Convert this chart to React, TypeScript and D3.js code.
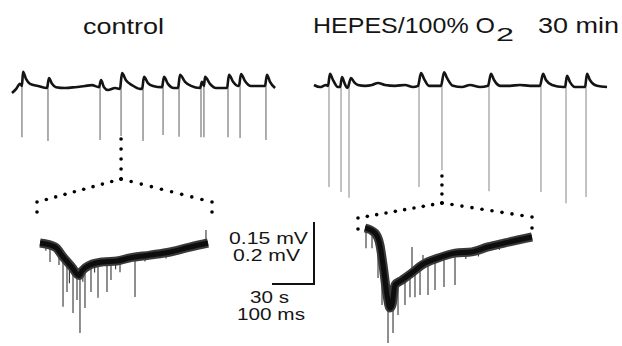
import React from 'react';
import * as d3 from 'd3';

// ---- Data (top traces: time in s, voltage in µV; bottom traces: time in ms, voltage in µV)
const controlTrace: [number, number][] = [
  [0, -12], [3, -2], [5.7, 10], [7.1, 5], [7.9, 39], [10, 22], [12.9, 10], [18.6, 5], [25, 0],
  [26.4, 24], [28.6, 10], [31.4, 2], [37.9, 0], [45, 2], [52.1, 5], [57.1, 7], [62.1, 2],
  [63.6, 19], [65.7, 2], [68.6, -5], [73.6, 0], [77.1, -2], [78.6, 36], [81.4, 19], [85.7, 7],
  [91.4, -2], [92.9, -2], [94.3, 27], [97.1, 12], [100.7, 5], [107.1, 2], [108.6, 27], [111.4, 10],
  [115.7, 0], [118.6, 0], [120, 32], [123.6, 15], [127.9, 5], [134.3, 0], [135.7, 15], [137.1, 5],
  [137.9, 27], [141.4, 10], [145.7, 0], [153.6, 0], [155, 32], [157.9, 15], [161.4, 5], [162.1, 5],
  [163.6, 34], [166.4, 17], [170.7, 5], [175.7, 5], [180.7, 5], [182.1, 32], [184.3, 15], [187.9, 0],
];
const controlSpikeTimes = [7.1, 25.7, 62.9, 77.9, 93.6, 107.9, 119.3, 135, 137.1, 154.3, 162.9, 181.4];
const controlSpikeDepths = [-119, -128, -126, -116, -128, -114, -118, -119, -119, -119, -121, -126];

const hepesTrace: [number, number][] = [
  [0, 0], [4.3, -5], [8.6, 0], [10, -2], [11.4, 27], [13.6, 12], [17.1, -5], [18.6, -5], [20, 19],
  [22.1, 2], [23.6, -7], [24.3, -5], [26.4, 17], [28.6, 7], [31.4, 0], [36.4, -2], [41.4, 0],
  [45.7, 5], [50.7, 0], [57.9, -2], [65, 0], [70.7, -5], [74.3, -2], [76.4, 29], [78.6, 15],
  [82.1, -2], [86.4, -2], [90.7, -2], [92.9, 31], [95, 17], [99.3, -2], [105.7, -5], [111.4, 0],
  [118.6, -5], [124.3, -2], [126.4, 27], [128.6, 12], [132.9, -2], [140, -2], [147.1, 0],
  [154.3, -2], [161.4, -2], [163.6, 27], [165.7, 12], [170, 0], [177.9, -5], [179.3, -5],
  [180.7, 22], [182.9, 7], [186.4, -5], [193.6, -5], [195, 27], [197.1, 12], [202.1, -2], [209.3, -5],
];
const hepesSpikeTimes = [10.7, 19.3, 25, 75, 91.4, 125, 162.1, 180, 194.3];
const hepesSpikeDepths = [-247, -259, -273, -247, -206, -257, -259, -286, -271];

const controlEvent: [number, number][] = [
  [0, 0], [36, -13], [55, -45], [76, -78], [93, -105], [100, -90], [119, -71], [150, -61],
  [183, -58], [214, -48], [262, -39], [310, -29], [357, -13], [400, 0],
];
const controlEventSpikeTimes = [23.8, 45.2, 54.8, 64.3, 78.6, 88.1, 95.2, 107.1, 121.4, 138.1, 159.5, 169, 190.5, 226.2, 395.2, 14, 70, 102, 130, 180, 250, 300, 340];
const controlEventSpikeValues = [-61, -71, -206, -158, -226, -184, -290, -210, -158, -177, -158, -119, -94, -174, 42, -25, -130, -125, -95, -85, -60, -50, -32];

const hepesEvent: [number, number][] = [
  [0, 0], [23.8, -16], [35.7, -55], [42.9, -119], [52.4, -216], [59.5, -258], [64.3, -248],
  [71.4, -184], [88.1, -168], [114.3, -142], [135.7, -119], [173.8, -97], [214.3, -81],
  [254.8, -77], [292.9, -61], [333.3, -48], [397.6, -29],
];
const hepesEventSpikeTimes = [2.4, 16.7, 31, 40.5, 54.8, 66.7, 78.6, 95.2, 107.1, 119, 131, 150, 166.7, 188.1, 214.3, 111.9, 138.1, 240, 270, 320, 360];
const hepesEventSpikeValues = [-65, -65, -161, -248, -371, -339, -281, -248, -223, -223, -216, -216, -200, -190, -184, -61, -87, -100, -92, -70, -50];

const titleControl = 'control';
const titleHepes = 'HEPES/100% O';
const titleHepesSub = '2';
const titleTime = '30 min';
const scaleLabelsV = ['0.15 mV', '0.2 mV'];
const scaleLabelsT = ['30 s', '100 ms'];
const scaleTopV = 150; // µV
const scaleTopT = 30; // s

// ---- Layout
const W = 622;
const H = 346;
const secPx = 1.4;
const msPx = 0.42;
const uVTopPx = 62 / 150;
const uVBotPx = 62 / 200;

const xTopL = d3.scaleLinear().domain([0, 100]).range([12, 12 + 100 * secPx]);
const yTopL = d3.scaleLinear().domain([0, 100]).range([88, 88 - 100 * uVTopPx]);
const xTopR = d3.scaleLinear().domain([0, 100]).range([314, 314 + 100 * secPx]);
const yTopR = d3.scaleLinear().domain([0, 100]).range([85, 85 - 100 * uVTopPx]);
const xBotL = d3.scaleLinear().domain([0, 100]).range([40, 40 + 100 * msPx]);
const yBotL = d3.scaleLinear().domain([0, 100]).range([243, 243 - 100 * uVBotPx]);
const xBotR = d3.scaleLinear().domain([0, 100]).range([365, 365 + 100 * msPx]);
const yBotR = d3.scaleLinear().domain([0, 100]).range([228, 228 - 100 * uVBotPx]);

const interp = (pts: [number, number][]) =>
  d3.scaleLinear().domain(pts.map((p) => p[0])).range(pts.map((p) => p[1])).clamp(true);

function dotsAlong(a: [number, number], b: [number, number], step = 10): [number, number][] {
  const d = Math.hypot(b[0] - a[0], b[1] - a[1]);
  const n = Math.max(1, Math.round(d / step));
  return d3.range(n + 1).map((i) => [a[0] + ((b[0] - a[0]) * i) / n, a[1] + ((b[1] - a[1]) * i) / n]);
}

const FONT = "'Liberation Sans', Arial, Helvetica, sans-serif";

function TopTrace({ trace, times, depths, xs, ys, spikeColor }: any) {
  const line = d3.line<[number, number]>().x((d) => xs(d[0])).y((d) => ys(d[1])).curve(d3.curveMonotoneX);
  const f = interp(trace);
  return (
    <g>
      {times.map((t: number, i: number) => (
        <line key={i} x1={xs(t)} x2={xs(t)} y1={ys(f(t))} y2={ys(depths[i])} stroke={spikeColor} strokeWidth={1.2} />
      ))}
      <path d={line(trace) || ''} fill="none" stroke="#141414" strokeWidth={2.6} strokeLinejoin="round" />
    </g>
  );
}

function BottomTrace({ trace, times, values, xs, ys }: any) {
  const line = d3.line<[number, number]>().x((d) => xs(d[0])).y((d) => ys(d[1])).curve(d3.curveMonotoneX);
  const f = interp(trace);
  return (
    <g>
      {times.map((t: number, i: number) => (
        <line key={i} x1={xs(t)} x2={xs(t)} y1={ys(f(t))} y2={ys(values[i])} stroke="#333" strokeWidth={1.1} />
      ))}
      <path d={line(trace) || ''} fill="none" stroke="#3a3a3a" strokeWidth={9} strokeLinejoin="round" strokeLinecap="butt" />
      <path d={line(trace) || ''} fill="none" stroke="#0d0d0d" strokeWidth={5} strokeLinejoin="round" />
    </g>
  );
}

function Connector({ top, apex, left, right, drop }: any) {
  const pts: [number, number][] = [
    ...dotsAlong(top, apex),
    ...dotsAlong(apex, left),
    ...dotsAlong(apex, right),
    [left[0], left[1] + drop],
    [right[0], right[1] + drop],
  ];
  return (
    <g>
      {pts.map((p, i) => (
        <circle key={i} cx={p[0]} cy={p[1]} r={1.8} fill="#000" />
      ))}
    </g>
  );
}

export default function App() {
  const lx = xTopL(controlSpikeTimes[3]);
  const rx = xTopR(hepesSpikeTimes[4]);
  const barX = 314;
  const barY = 284;
  const barV = yTopL(0) - yTopL(scaleTopV);
  const barT = xTopL(scaleTopT) - xTopL(0);
  return (
    <svg width={W} height={H} style={{ position: 'absolute', left: 0, top: 0, background: '#fff' }}>
      <rect width={W} height={H} fill="#fff" />
      <g fontFamily={FONT} fill="#151515">
        <text x={83} y={34} fontSize={22} textLength={81} lengthAdjust="spacingAndGlyphs">{titleControl}</text>
        <text x={313} y={33} fontSize={22} textLength={182} lengthAdjust="spacingAndGlyphs">{titleHepes}</text>
        <text x={496} y={41} fontSize={19} textLength={18} lengthAdjust="spacingAndGlyphs">{titleHepesSub}</text>
        <text x={538} y={33} fontSize={22} textLength={81} lengthAdjust="spacingAndGlyphs">{titleTime}</text>
      </g>

      <TopTrace trace={controlTrace} times={controlSpikeTimes} depths={controlSpikeDepths} xs={xTopL} ys={yTopL} spikeColor="#777" />
      <TopTrace trace={hepesTrace} times={hepesSpikeTimes} depths={hepesSpikeDepths} xs={xTopR} ys={yTopR} spikeColor="#999" />

      <Connector top={[lx, 139]} apex={[lx, 179]} left={[37, 202]} right={[212, 202]} drop={10} />
      <Connector top={[rx, 176]} apex={[rx, 203]} left={[358, 218]} right={[532, 217]} drop={11} />

      <BottomTrace trace={controlEvent} times={controlEventSpikeTimes} values={controlEventSpikeValues} xs={xBotL} ys={yBotL} />
      <BottomTrace trace={hepesEvent} times={hepesEventSpikeTimes} values={hepesEventSpikeValues} xs={xBotR} ys={yBotR} />

      <path d={`M${barX},${barY - barV}V${barY}H${barX - barT}`} fill="none" stroke="#111" strokeWidth={2} />
      <g fontFamily={FONT} fill="#151515" fontSize={16}>
        <text x={229} y={244} textLength={79} lengthAdjust="spacingAndGlyphs">{scaleLabelsV[0]}</text>
        <text x={233} y={261} textLength={67} lengthAdjust="spacingAndGlyphs">{scaleLabelsV[1]}</text>
        <text x={250} y={303} textLength={39} lengthAdjust="spacingAndGlyphs">{scaleLabelsT[0]}</text>
        <text x={237} y={320} textLength={68} lengthAdjust="spacingAndGlyphs">{scaleLabelsT[1]}</text>
      </g>
    </svg>
  );
}
